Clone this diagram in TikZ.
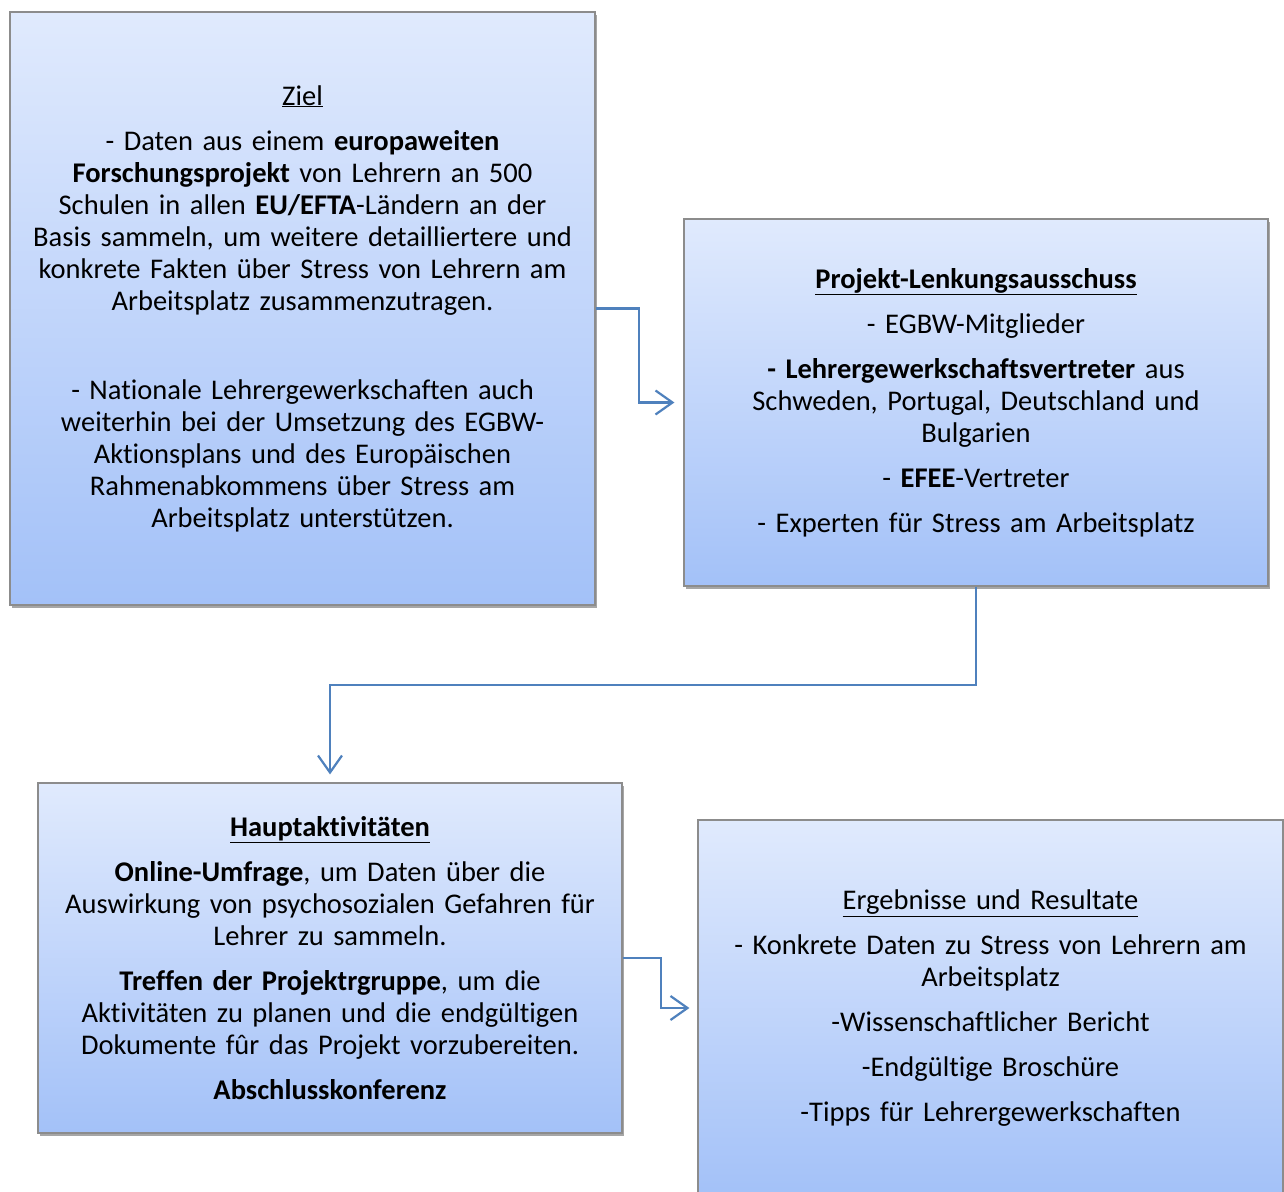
\documentclass[tikz,border=0pt]{standalone}
\usepackage{fontspec}
\setmainfont{Carlito}[Ligatures={NoCommon}]
\usetikzlibrary{arrows.meta,shadows}
\definecolor{boxtop}{HTML}{E0EAFD}
\definecolor{boxbot}{HTML}{A3C1F8}
\definecolor{boxline}{HTML}{8C8C8C}
\definecolor{arrowc}{HTML}{4F81BD}
\tikzset{
  panel/.style={rectangle, inner sep=0pt, draw=boxline, line width=1.2pt,
    top color=boxtop, bottom color=boxbot, align=center,
    font=\fontsize{28.5}{32}\selectfont,
    drop shadow={shadow xshift=2pt, shadow yshift=-3pt, opacity=0.35, fill=black}},
  link/.style={draw=arrowc, line width=2.2pt,
    -{Straight Barb[length=17pt,width=24pt,line width=2.2pt]}}
}
\begin{document}
\begin{tikzpicture}[x=1pt,y=-1pt]
\useasboundingbox[fill=white] (0,0) rectangle (1284,1191);

\node[panel, minimum width=585pt, minimum height=593pt, text width=575pt] (b1) at (302.5,308.5) {%
\underline{Ziel}\\[13pt]
- Daten aus einem \textbf{europaweiten}\\
\textbf{Forschungsprojekt} von Lehrern an 500\\
Schulen in allen \textbf{EU/EFTA}-Ländern an der\\
Basis sammeln, um weitere detailliertere und\\
konkrete Fakten über Stress von Lehrern am\\
Arbeitsplatz zusammenzutragen.\\[57pt]
- Nationale Lehrergewerkschaften auch\\
weiterhin bei der Umsetzung des EGBW-\\
Aktionsplans und des Europäischen\\
Rahmenabkommens über Stress am\\
Arbeitsplatz unterstützen.};

\node[panel, minimum width=584pt, minimum height=367pt, text width=575pt] (b2) at (976,402.5) {%
\textbf{\underline{Projekt-Lenkungsausschuss}}\\[13pt]
- EGBW-Mitglieder\\[13pt]
\textbf{- Lehrergewerkschaftsvertreter} aus\\
Schweden, Portugal, Deutschland und\\
Bulgarien\\[13pt]
- \textbf{EFEE}-Vertreter\\[13pt]
- Experten für Stress am Arbeitsplatz};

\node[panel, minimum width=584pt, minimum height=350pt, text width=575pt] (b3) at (330,958) {%
\textbf{\underline{Hauptaktivitäten}}\\[13pt]
\textbf{Online-Umfrage}, um Daten über die\\
Auswirkung von psychosozialen Gefahren für\\
Lehrer zu sammeln.\\[13pt]
\textbf{Treffen der Projektrgruppe}, um die\\
Aktivitäten zu planen und die endgültigen\\
Dokumente fûr das Projekt vorzubereiten.\\[13pt]
\textbf{Abschlusskonferenz}};

\node[panel, minimum width=585pt, minimum height=376pt, text width=575pt] (b4) at (990.5,1008) {%
\underline{Ergebnisse und Resultate}\\[13pt]
- Konkrete Daten zu Stress von Lehrern am\\
Arbeitsplatz\\[13pt]
-Wissenschaftlicher Bericht\\[13pt]
-Endgültige Broschüre\\[13pt]
-Tipps für Lehrergewerkschaften};

\draw[link, shorten >=9pt] (b1.east) -- ++(43,0) |- (b2.west);
\draw[link, shorten >=8pt] (b2.south) -- ++(0,98) -| (b3.north);
\draw[link, shorten >=8pt] (b3.east) -- ++(38,0) |- (b4.west);
\end{tikzpicture}
\end{document}
